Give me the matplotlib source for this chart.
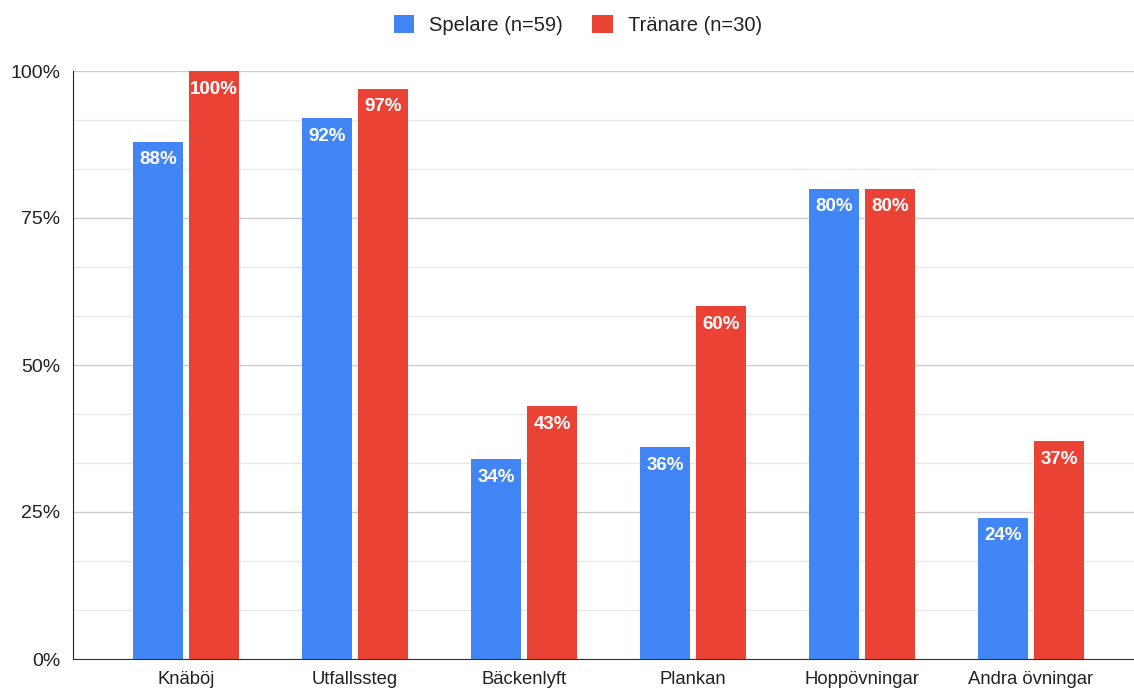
import matplotlib
matplotlib.use("Agg")
import matplotlib.pyplot as plt
import matplotlib.ticker as mticker
from matplotlib.patches import FancyBboxPatch
import numpy as np

# ── data ────────────────────────────────────────────────────────────────────
categories = ["Knäböj", "Utfallssteg", "Bäckenlyft", "Plankan",
              "Hoppövningar", "Andra övningar"]
spelare = [88, 92, 34, 36, 80, 24]
tranare = [100, 97, 43, 60, 80, 37]
series_labels = ["Spelare (n=59)", "Tränare (n=30)"]

BLUE = "#4285F4"
RED = "#EA4335"
FONT = ["Liberation Sans", "DejaVu Sans"]

plt.rcParams["font.family"] = FONT

fig = plt.figure(figsize=(11.34, 6.92), dpi=100)
fig.patch.set_facecolor("white")
ax = fig.add_axes([73 / 1134, 1 - 659 / 692, 1 - 73 / 1134, (659 - 71) / 692])

x = np.arange(len(categories))
w = 0.30
off = 0.166

for vals, dx, col, lab in [(spelare, -off, BLUE, series_labels[0]),
                           (tranare, off, RED, series_labels[1])]:
    ax.bar(x + dx, vals, w, color=col, label=lab, zorder=3)
    for xi, v in zip(x, vals):
        ax.annotate(f"{v}%", (xi + dx, v), xytext=(0, -18),
                    textcoords="offset pixels", ha="center", va="center",
                    fontsize=13.5, color="white", fontweight="bold", zorder=4)

ax.set_xlim(-0.669, 5.61)
ax.set_ylim(0, 100)
ax.set_xticks(x)
ax.set_xticklabels(categories, fontsize=13.3, color="#222222")
ax.yaxis.set_major_locator(mticker.MultipleLocator(25))
ax.yaxis.set_minor_locator(mticker.MultipleLocator(100 / 12))
ax.yaxis.set_major_formatter(mticker.FuncFormatter(lambda v, _: f"{v:.0f}%"))
ax.tick_params(axis="y", labelsize=14, labelcolor="#222222", length=0, pad=9,
               which="both")
ax.tick_params(axis="x", length=0, pad=9)
ax.yaxis.grid(True, which="major", color="#cccccc", linewidth=1, zorder=0)
ax.yaxis.grid(True, which="minor", color="#e8e8e8", linewidth=1, zorder=0)
ax.set_axisbelow(True)
for s in ["top", "right"]:
    ax.spines[s].set_visible(False)
ax.spines["left"].set_color("#222222")
ax.spines["bottom"].set_color("#333333")
ax.spines["left"].set_zorder(5)
ax.spines["bottom"].set_zorder(5)

handles, labels = ax.get_legend_handles_labels()
fig.legend(handles, labels, loc="center", bbox_to_anchor=(578 / 1134, 1 - 25 / 692),
           ncol=2, frameon=False, fontsize=14.5, handlelength=1.0, handleheight=1.0,
           columnspacing=1.45, handletextpad=0.75, labelcolor="#222222")

fig.savefig("out.png", dpi=100, facecolor="white")
